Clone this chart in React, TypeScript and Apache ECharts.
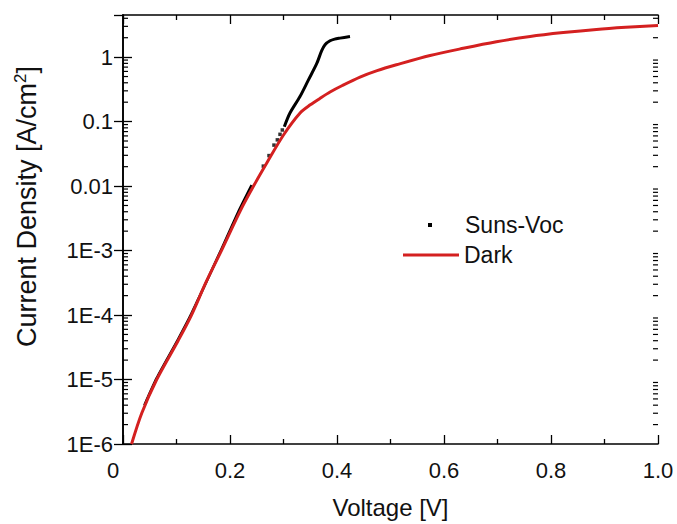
import React, { useEffect, useRef } from 'react';
import * as echarts from 'echarts';

// Dark J-V curve (red)
const darkV = [0.016, 0.035, 0.063, 0.103, 0.128, 0.155, 0.184, 0.219, 0.244, 0.269, 0.3, 0.331, 0.35, 0.368, 0.387, 0.41, 0.443, 0.475, 0.511, 0.574, 0.636, 0.698, 0.761, 0.823, 0.885, 0.94, 1.0];
const darkJ = [1e-6, 3.0e-6, 1e-5, 4.0e-5, 1e-4, 3.2e-4, 1e-3, 4.1e-3, 1e-2, 2.3e-2, 6.2e-2, 0.136, 0.182, 0.229, 0.288, 0.363, 0.49, 0.617, 0.76, 1.06, 1.37, 1.73, 2.09, 2.4, 2.69, 2.9, 3.1];

// Suns-Voc (black dots) – dense lower part, sparse middle, dense upper part
const sunsLowV = [0.04, 0.063, 0.103, 0.128, 0.184, 0.215, 0.2405];
const sunsLowJ = [4e-6, 1.05e-5, 4.2e-5, 1.05e-4, 1.05e-3, 3.9e-3, 1.035e-2];
const sunsSparseV = [0.2623, 0.2729, 0.2822, 0.2885, 0.2935, 0.2978];
const sunsSparseJ = [0.0204, 0.0297, 0.0432, 0.0521, 0.0635, 0.0741];
const sunsHighV = [0.3015, 0.3121, 0.3308, 0.3464, 0.362, 0.3714, 0.3776, 0.387, 0.3956, 0.4056, 0.4243];
const sunsHighJ = [0.0832, 0.136, 0.245, 0.44, 0.79, 1.26, 1.56, 1.79, 1.9, 1.97, 2.09];

// Axis ticks / labels
const xTickLabels = ['0', '0.2', '0.4', '0.6', '0.8', '1.0'];
const yDecadeLabels = ['1E-6', '1E-5', '1E-4', '1E-3', '0.01', '0.1', '1'];
const yMinorMantissas = [2, 3, 4, 5, 6, 7, 8, 9];
const yMin = 1e-6;
const yMax = 4.5;

const FONT = 'Arial, "Liberation Sans", sans-serif';

const pairs = (xs: number[], ys: number[]) => xs.map((x, i) => [x, ys[i]]);

export default function App() {
  const ref = useRef<HTMLDivElement>(null);
  useEffect(() => {
    if (!ref.current) return;
    const chart = echarts.init(ref.current, undefined, { renderer: 'svg' });

    const minorVals: number[][] = [];
    for (let e = -6; e <= 0; e++) {
      for (const m of yMinorMantissas) {
        const v = m * Math.pow(10, e);
        if (v < yMax) minorVals.push([0, v]);
      }
    }

    const yFmt = (v: number) => {
      const e = Math.log10(v);
      const r = Math.round(e);
      if (Math.abs(e - r) > 1e-6) return '';
      const idx = r + 6;
      return yDecadeLabels[idx] ?? '';
    };
    const xFmt = (v: number) => {
      const idx = Math.round(v / 0.2);
      if (Math.abs(v - idx * 0.2) > 1e-6) return '';
      if (idx === 0) return '{z|0}';
      return xTickLabels[idx] ?? '';
    };

    const axisLine = { show: true, lineStyle: { color: '#000', width: 1.6 } };
    const tickStyle = { color: '#000', width: 1.3 };

    chart.setOption({
      animation: false,
      backgroundColor: '#fff',
      grid: { left: 123, right: 19, top: 15, bottom: 73, containLabel: false },
      legend: [
        {
          data: [{ name: 'Suns-Voc', icon: 'rect' }],
          left: 428,
          top: 213,
          padding: 0,
          itemWidth: 4,
          itemHeight: 4,
          textStyle: { fontFamily: FONT, fontSize: 23, color: '#111', lineHeight: 24, padding: [0, 0, 0, 28] },
          selectedMode: false,
        },
        {
          data: [{ name: 'Dark', icon: 'rect' }],
          left: 403,
          top: 243,
          padding: 0,
          itemWidth: 56,
          itemHeight: 3,
          textStyle: { fontFamily: FONT, fontSize: 23, color: '#111', lineHeight: 24 },
          selectedMode: false,
        },
      ],
      xAxis: [
        {
          type: 'value',
          min: 0,
          max: 1,
          interval: 0.2,
          position: 'bottom',
          name: 'Voltage [V]',
          nameLocation: 'middle',
          nameGap: 51,
          nameTextStyle: { fontFamily: FONT, fontSize: 24, color: '#111' },
          axisLine,
          axisTick: { show: true, inside: true, length: 9, lineStyle: tickStyle },
          minorTick: { show: true, splitNumber: 2, length: 5, lineStyle: tickStyle },
          splitLine: { show: false },
          axisLabel: {
            fontFamily: FONT,
            fontSize: 22,
            color: '#111',
            margin: 15,
            formatter: xFmt,
            rich: { z: { fontFamily: FONT, fontSize: 22, color: '#111', padding: [0, 20, 0, 0] } },
          },
        },
        {
          type: 'value',
          min: 0,
          max: 1,
          interval: 0.2,
          position: 'top',
          axisLine,
          axisTick: { show: true, inside: true, length: 9, lineStyle: tickStyle },
          minorTick: { show: true, splitNumber: 2, length: 5, lineStyle: tickStyle },
          splitLine: { show: false },
          axisLabel: { show: false },
        },
      ],
      yAxis: [
        {
          type: 'log',
          logBase: 10,
          min: yMin,
          max: yMax,
          interval: 1,
          position: 'left',
          name: 'Current Density [A/cm{sup|2}]',
          nameLocation: 'middle',
          nameRotate: 90,
          nameGap: 82,
          nameTextStyle: {
            fontFamily: FONT,
            fontSize: 27,
            color: '#111',
            padding: [0, 0, 0, 46],
            rich: { sup: { fontFamily: FONT, fontSize: 17, color: '#111', verticalAlign: 'top', padding: [0, 0, 12, 0] } },
          },
          axisLine,
          axisTick: { show: true, inside: true, length: 9, lineStyle: tickStyle },
          splitLine: { show: false },
          axisLabel: {
            fontFamily: FONT,
            fontSize: 22,
            color: '#111',
            margin: 10,
            showMaxLabel: false,
            formatter: yFmt,
          },
        },
        {
          type: 'log',
          logBase: 10,
          min: yMin,
          max: yMax,
          interval: 1,
          position: 'right',
          axisLine,
          axisTick: { show: true, inside: true, length: 9, lineStyle: tickStyle },
          splitLine: { show: false },
          axisLabel: { show: false },
        },
      ],
      series: [
        {
          name: 'minorTicks',
          type: 'custom',
          xAxisIndex: 0,
          yAxisIndex: 0,
          silent: true,
          clip: false,
          data: minorVals,
          renderItem: (_params: any, api: any) => {
            const v = api.value(1);
            const l = api.coord([0, v]);
            const r = api.coord([1, v]);
            return {
              type: 'group',
              children: [
                { type: 'line', shape: { x1: l[0], y1: l[1], x2: l[0] + 5, y2: l[1] }, style: { stroke: '#000', lineWidth: 1.2 } },
                { type: 'line', shape: { x1: r[0], y1: r[1], x2: r[0] - 5, y2: r[1] }, style: { stroke: '#000', lineWidth: 1.2 } },
              ],
            };
          },
        },
        {
          name: 'Suns-Voc',
          type: 'line',
          data: pairs(sunsLowV, sunsLowJ),
          symbol: 'none',
          color: '#000',
          lineStyle: { color: '#000', width: 2.6 },
          smooth: 0.2,
        },
        {
          name: 'Suns-Voc',
          type: 'scatter',
          data: pairs(sunsSparseV, sunsSparseJ),
          symbol: 'rect',
          symbolSize: 3.5,
          itemStyle: { color: '#000' },
          color: '#000',
        },
        {
          name: 'Suns-Voc',
          type: 'line',
          data: pairs(sunsHighV, sunsHighJ),
          symbol: 'none',
          color: '#000',
          lineStyle: { color: '#000', width: 3 },
          smooth: 0.3,
        },
        {
          name: 'Dark',
          type: 'line',
          data: pairs(darkV, darkJ),
          symbol: 'none',
          color: '#d42020',
          lineStyle: { color: '#d42020', width: 3 },
          smooth: 0.3,
        },
      ],
    });
    return () => chart.dispose();
  }, []);
  return (
    <div
      ref={ref}
      style={{ position: 'fixed', left: 0, top: 0, width: 677, height: 524, background: '#fff' }}
    />
  );
}
